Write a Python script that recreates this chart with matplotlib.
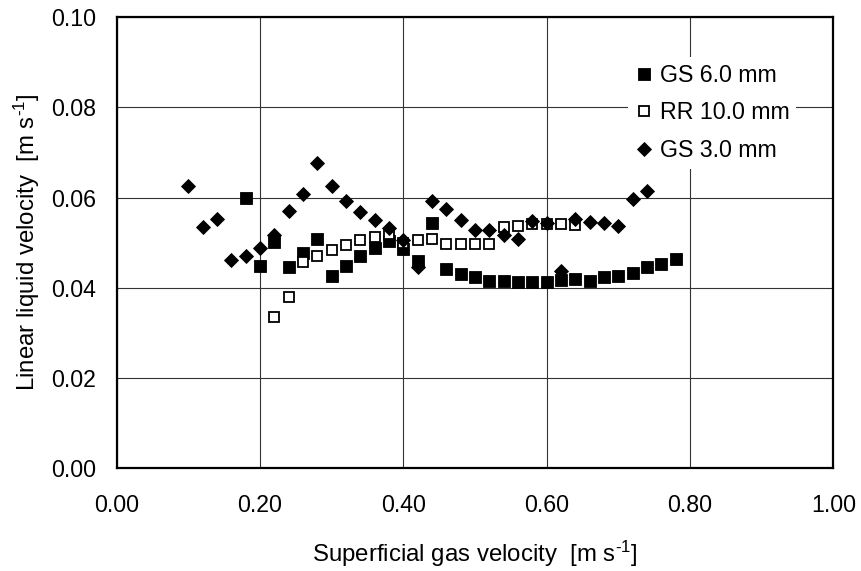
import numpy as np
import matplotlib
matplotlib.use("Agg")
import matplotlib.pyplot as plt
from matplotlib.ticker import FormatStrFormatter

plt.rcParams['font.family'] = ['Liberation Sans', 'DejaVu Sans']
plt.rcParams['mathtext.fontset'] = 'custom'
plt.rcParams['mathtext.rm'] = 'Liberation Sans'
plt.rcParams['mathtext.it'] = 'Liberation Sans'

# Glass spheres 6.0 mm
gs6_x = [0.18, 0.20, 0.22, 0.24, 0.26, 0.28, 0.30, 0.32, 0.34, 0.36, 0.38,
         0.40, 0.42, 0.44, 0.46, 0.48, 0.50, 0.52, 0.54, 0.56, 0.58, 0.60,
         0.62, 0.64, 0.66, 0.68, 0.70, 0.72, 0.74, 0.76, 0.78]
gs6_y = [0.0598, 0.0448, 0.0501, 0.0445, 0.0477, 0.0508, 0.0427, 0.0448,
         0.0470, 0.0488, 0.0503, 0.0487, 0.0459, 0.0544, 0.0441, 0.0431,
         0.0424, 0.0416, 0.0416, 0.0413, 0.0413, 0.0413, 0.0418, 0.0420,
         0.0416, 0.0424, 0.0427, 0.0433, 0.0446, 0.0452, 0.0463]

# Raschig rings 10.0 mm
rr10_x = [0.22, 0.24, 0.26, 0.28, 0.30, 0.32, 0.34, 0.36, 0.38, 0.40, 0.42,
          0.44, 0.46, 0.48, 0.50, 0.52, 0.54, 0.56, 0.58, 0.60, 0.62, 0.64]
rr10_y = [0.0335, 0.0380, 0.0456, 0.0470, 0.0484, 0.0495, 0.0505, 0.0513,
          0.0520, 0.0500, 0.0505, 0.0509, 0.0498, 0.0498, 0.0498, 0.0498,
          0.0535, 0.0538, 0.0542, 0.0542, 0.0542, 0.0540]

# Glass spheres 3.0 mm
gs3_x = [0.10, 0.12, 0.14, 0.16, 0.18, 0.20, 0.22, 0.24, 0.26, 0.28, 0.30,
         0.32, 0.34, 0.36, 0.38, 0.40, 0.42, 0.44, 0.46, 0.48, 0.50, 0.52,
         0.54, 0.56, 0.58, 0.60, 0.62, 0.64, 0.66, 0.68, 0.70, 0.72, 0.74]
gs3_y = [0.0625, 0.0535, 0.0553, 0.0461, 0.0471, 0.0489, 0.0516, 0.0571,
         0.0607, 0.0677, 0.0625, 0.0593, 0.0568, 0.0550, 0.0533, 0.0506,
         0.0446, 0.0593, 0.0575, 0.0550, 0.0529, 0.0529, 0.0518, 0.0507,
         0.0547, 0.0544, 0.0438, 0.0553, 0.0546, 0.0544, 0.0538, 0.0596,
         0.0614]

x_ticks = [0.0, 0.2, 0.4, 0.6, 0.8, 1.0]
y_ticks = [0.00, 0.02, 0.04, 0.06, 0.08, 0.10]

W, H = 862, 571
fig = plt.figure(figsize=(W / 100, H / 100), dpi=100)
ax = fig.add_axes([116.7 / W, 1 - 468 / H, (833.3 - 116.7) / W, (468 - 17.3) / H])

ax.plot(gs6_x, gs6_y, linestyle='none', marker='s', markersize=8.4,
        markerfacecolor='black', markeredgecolor='black', markeredgewidth=0.6,
        label='GS 6.0 mm', zorder=3)
ax.plot(rr10_x, rr10_y, linestyle='none', marker='s', markersize=7.6,
        markerfacecolor='white', markeredgecolor='black', markeredgewidth=1.3,
        label='RR 10.0 mm', zorder=4)
ax.plot(gs3_x, gs3_y, linestyle='none', marker='D', markersize=6.9,
        markerfacecolor='black', markeredgecolor='black', markeredgewidth=0.6,
        label='GS 3.0 mm', zorder=5)

ax.set_xlim(0, 1.0)
ax.set_ylim(0, 0.10)
ax.set_xticks(x_ticks)
ax.set_yticks(y_ticks)
ax.xaxis.set_major_formatter(FormatStrFormatter('%.2f'))
ax.yaxis.set_major_formatter(FormatStrFormatter('%.2f'))
ax.tick_params(axis='both', length=0, labelsize=16.7, colors='black')
ax.tick_params(axis='x', pad=19)
ax.tick_params(axis='y', pad=15)

ax.grid(True, color='#333333', linewidth=0.8)
ax.set_axisbelow(True)
for sp in ax.spines.values():
    sp.set_linewidth(1.6)
    sp.set_color('black')

unit = r'[m s$^{\text{-1}}$]'
ax.set_xlabel('Superficial gas velocity  ' + unit, fontsize=17.3)
ax.set_ylabel('Linear liquid velocity  ' + unit, fontsize=17.3)
ax.xaxis.set_label_coords(0.5, (468 - 539) / (468 - 17.3))
ax.yaxis.set_label_coords((42 - 116.7) / (833.3 - 116.7), 0.5)

leg = ax.legend(loc='upper left', bbox_to_anchor=(628 / W, 1 - 57 / H),
                bbox_transform=fig.transFigure, fontsize=16.7,
                handlelength=0.8, handletextpad=0.27, borderpad=0.3,
                labelspacing=0.62, fancybox=False, framealpha=1.0,
                borderaxespad=0)
leg.get_frame().set_facecolor('white')
leg.get_frame().set_edgecolor('none')

fig.savefig('out.png', dpi=100)
